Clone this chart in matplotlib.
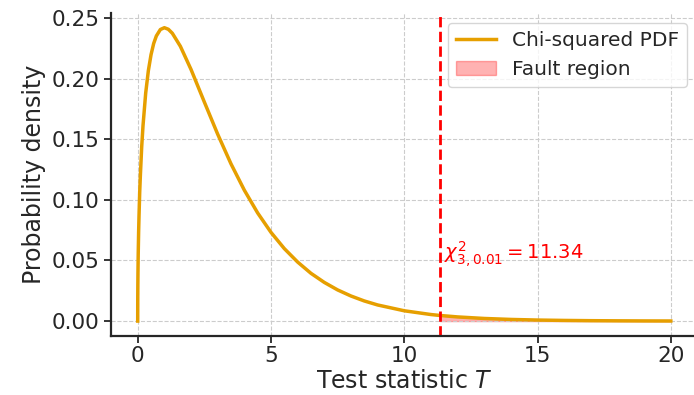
import matplotlib
matplotlib.use("Agg")
import matplotlib.pyplot as plt
from matplotlib.ticker import MultipleLocator
import numpy as np

# values (chi-squared, 3 dof)
t_values = [0.0, 0.002, 0.005, 0.01, 0.02, 0.035, 0.05, 0.075, 0.1, 0.15, 0.2,
            0.3, 0.4, 0.5, 0.6, 0.7, 0.85, 1.0, 1.15, 1.3, 1.6, 2.0, 2.5, 3.0,
            3.5, 4.0, 4.5, 5.0, 5.5, 6.0, 6.5, 7.0, 7.5, 8.0, 8.5, 9.0, 10.0,
            11.0, 11.34, 12.0, 13.0, 14.0, 15.0, 16.0, 17.0, 18.0, 19.0, 20.0]
pdf_values = [0.0, 0.0178, 0.0281, 0.0397, 0.0559, 0.0737, 0.0870, 0.1061,
              0.1200, 0.1437, 0.1614, 0.1881, 0.2066, 0.2197, 0.2290, 0.2352,
              0.2405, 0.2420, 0.2407, 0.2374, 0.2267, 0.2076, 0.1807, 0.1542,
              0.1297, 0.1080, 0.0892, 0.0732, 0.0598, 0.0487, 0.0394, 0.0319,
              0.0257, 0.0207, 0.0166, 0.0133, 0.0085, 0.0054, 0.00463, 0.00343,
              0.00216, 0.00136, 0.00085, 0.00054, 0.00033, 0.00021, 0.00013,
              0.00008]
threshold = 11.34
threshold_label = r"$\chi^2_{3,0.01} = 11.34$"

t = np.array(t_values)
pdf = np.array(pdf_values)

text_color = "#262626"
plt.rcParams.update({
    "font.family": "DejaVu Sans",
    "axes.edgecolor": text_color,
    "xtick.color": text_color,
    "ytick.color": text_color,
    "axes.labelcolor": text_color,
})

fig = plt.figure(figsize=(6.94, 3.95), dpi=100)
# the reference is cropped tight, the axes run just past the right edge
ax = fig.add_axes([0.160, 0.150, 0.845, 0.817])

ax.plot(t, pdf, color="#E69F00", lw=2.5, label="Chi-squared PDF")
mask = t >= threshold
ax.fill_between(t[mask], pdf[mask], color="red", alpha=0.3, label="Fault region")
ax.axvline(threshold, color="red", ls="--", lw=2)
ax.text(threshold + 0.15, 0.05, threshold_label, color="red", fontsize=14,
        va="baseline")

ax.xaxis.set_major_locator(MultipleLocator(5))
ax.set_xlabel(r"Test statistic $T$", fontsize=17, labelpad=2)
ax.set_ylabel("Probability density", fontsize=17)
ax.tick_params(labelsize=15.5, width=1.3, length=5)
ax.tick_params(axis="x", pad=2.5)
ax.grid(True, ls="--", color="#cccccc", lw=0.8)
ax.spines["top"].set_visible(False)
ax.spines["right"].set_visible(False)
ax.spines["left"].set_linewidth(1.6)
ax.spines["bottom"].set_linewidth(1.6)

leg = ax.legend(loc="upper right", fontsize=14.5)
for txt in leg.get_texts():
    txt.set_color(text_color)

fig.savefig("out.png", dpi=100)
